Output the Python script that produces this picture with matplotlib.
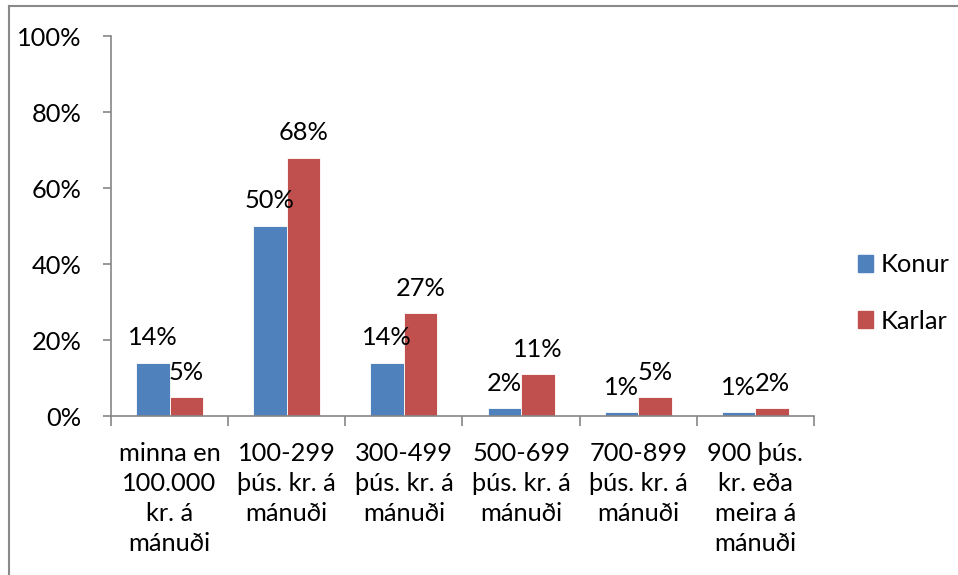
import numpy as np
import matplotlib.pyplot as plt
from matplotlib.lines import Line2D

# Data
categories = [
    "minna en\n100.000\nkr. á\nmánuði",
    "100-299\nþús. kr. á\nmánuði",
    "300-499\nþús. kr. á\nmánuði",
    "500-699\nþús. kr. á\nmánuði",
    "700-899\nþús. kr. á\nmánuði",
    "900 þús.\nkr. eða\nmeira á\nmánuði",
]
konur = [14, 50, 14, 2, 1, 1]
karlar = [5, 68, 27, 11, 5, 2]
series_names = ["Konur", "Karlar"]
colors = ["#4F81BD", "#C0504D"]
y_ticks = [0, 20, 40, 60, 80, 100]

plt.rcParams["font.family"] = ["Lato", "DejaVu Sans"]
FS = 18.3
AXIS_COLOR = "#868686"

fig = plt.figure(figsize=(9.58, 5.75), dpi=100)
ax = fig.add_axes([111 / 958, 1 - 416 / 575, (814 - 111) / 958, (416 - 36) / 575])

x = np.arange(len(categories))
w = 1 / 3.5
for vals, off, col in [(konur, -w / 2, colors[0]), (karlar, w / 2, colors[1])]:
    ax.bar(x + off, vals, width=w, color=col, edgecolor="white", linewidth=0.6, zorder=2)
    for xi, v in zip(x + off, vals):
        ax.annotate(f"{v}%", (xi, v), xytext=(0, 18), textcoords="offset points",
                    ha="center", va="center", fontsize=FS, color="black")

ax.set_xlim(-0.5, len(categories) - 0.5)
ax.set_ylim(0, 100)
ax.set_yticks(y_ticks)
ax.set_yticklabels([f"{t}%" for t in y_ticks], fontsize=FS)

# category boundaries as major ticks, labels on minor ticks
ax.set_xticks(np.arange(-0.5, len(categories), 1.0))
ax.set_xticklabels([])
ax.set_xticks(x, minor=True)
ax.set_xticklabels(categories, minor=True, fontsize=FS, linespacing=1.36)
ax.tick_params(axis="x", which="major", length=7, width=1.2, color=AXIS_COLOR, direction="out")
ax.tick_params(axis="x", which="minor", length=0, pad=19)
ax.tick_params(axis="y", length=6, width=1.2, color=AXIS_COLOR, pad=15)

for s in ["top", "right"]:
    ax.spines[s].set_visible(False)
for s in ["left", "bottom"]:
    ax.spines[s].set_color(AXIS_COLOR)
    ax.spines[s].set_linewidth(1.2)

handles = [plt.Rectangle((0, 0), 1, 1, color=c) for c in colors]
fig.legend(handles, series_names, loc="center left", bbox_to_anchor=(835 / 958, 1 - 293 / 575),
           frameon=False, fontsize=FS, handlelength=0.6, handleheight=0.6,
           handletextpad=0.3, labelspacing=1.3)

# outer chart border (top and left visible)
fig.add_artist(Line2D([9 / 958, 1], [1 - 6 / 575, 1 - 6 / 575], color="#898989", lw=1.5))
fig.add_artist(Line2D([9 / 958, 9 / 958], [0, 1 - 6 / 575], color="#898989", lw=1.5))

fig.savefig("out.png", dpi=100)
